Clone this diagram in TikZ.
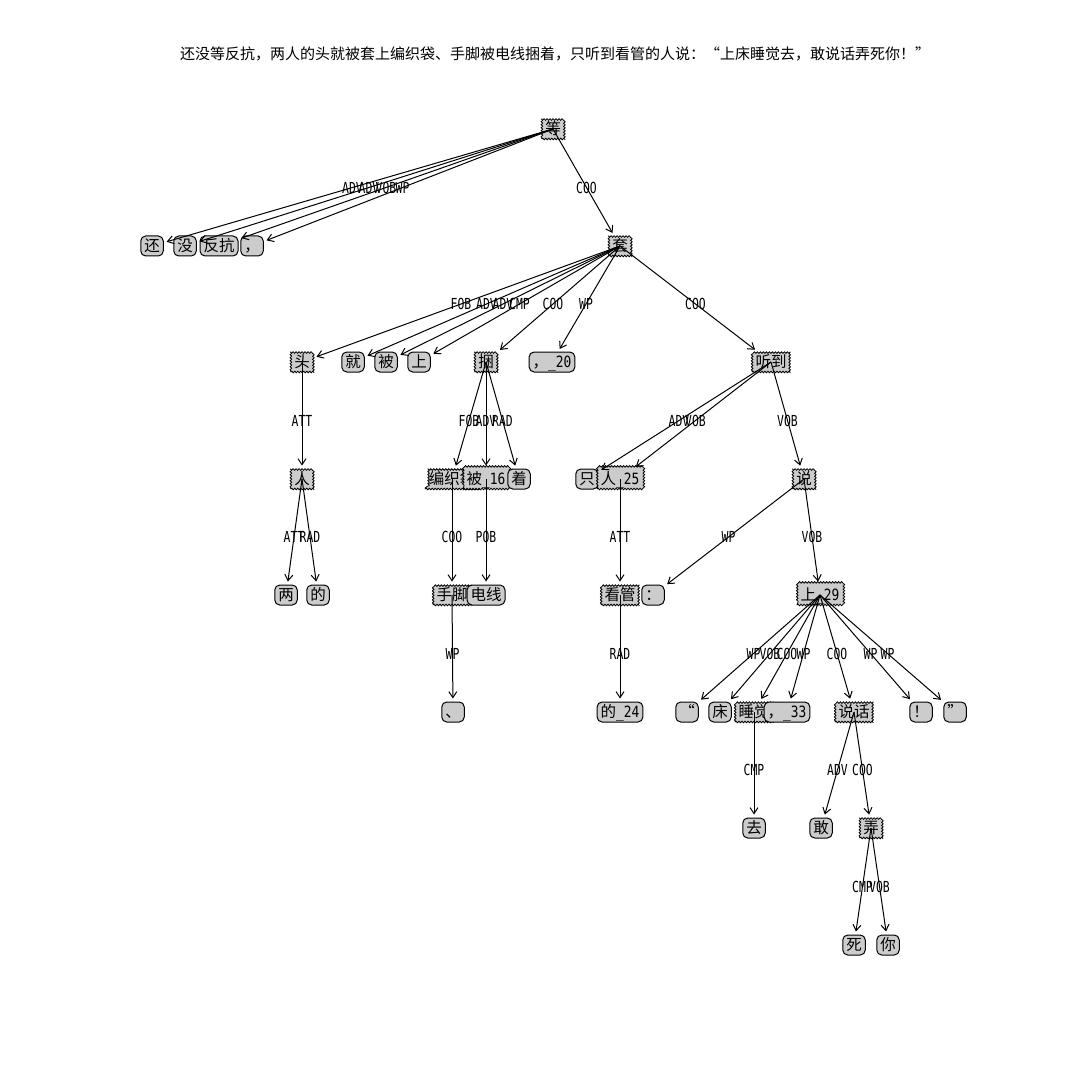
\documentclass[tikz,border=0pt]{standalone}
\usepackage{fontspec}
\setmainfont{Noto Sans CJK SC}
\newfontfamily\labfont[FakeStretch=0.75]{DejaVu Sans Mono}
\newfontfamily\latfont[FakeStretch=0.83]{DejaVu Sans Mono}
\newcommand\latpart[1]{{\latfont #1}}
\usetikzlibrary{arrows.meta,decorations.pathmorphing,calc}
\newcommand\depedge[3]{\draw[deparrow] (#1.center) -- (#2);
  \node[rel] at ($(#1.center)!0.5!(#2.center)$) {#3};}
\begin{document}
\begin{tikzpicture}[x=0.5pt,y=-0.5pt,
  every node/.style={inner sep=0pt},
  basebox/.style={font=\fontsize{7.75pt}{9pt}\selectfont, fill=gray!40, draw=black,
    line width=0.5pt, minimum height=10pt, inner xsep=1.75pt, text height=6.4pt, text depth=1.1pt},
  leafbox/.style={basebox, rounded corners=2.5pt},
  headbox/.style={basebox, line width=0.4pt, decorate, decoration={snake, segment length=1.5pt, amplitude=0.4pt}},
  deparrow/.style={line width=0.5pt, -{Straight Barb[length=3pt,width=4pt]}, shorten >=1.5pt},
  rel/.style={font=\labfont\fontsize{7.6pt}{8pt}\selectfont}
]
\useasboundingbox (0,0) rectangle (1080,1080);
\node[font=\fontsize{7.5pt}{9pt}\selectfont] (title) at (555,54) {还没等反抗，两人的头就被套上编织袋、手脚被电线捆着，只听到看管的人说：“上床睡觉去，敢说话弄死你！”};
% row 0
\node[headbox] (deng) at (553,129) {等};
% row 1
\node[leafbox] (hai) at (152,246) {还};
\node[leafbox] (mei) at (185,246) {没};
\node[leafbox] (fankang) at (219,246) {反抗};
\node[leafbox] (dou1) at (252,246) {，};
\node[headbox] (tao) at (620,246) {套};
% row 2
\node[headbox] (tou) at (302,362) {头};
\node[leafbox] (jiu) at (353,362) {就};
\node[leafbox] (bei) at (386,362) {被};
\node[leafbox] (shang) at (419,362) {上};
\node[headbox] (kun) at (486,362) {捆};
\node[leafbox] (dou20) at (552,362) {，\latpart{\_20}};
\node[headbox] (tingdao) at (771,362) {听到};
% row 3
\node[headbox] (ren) at (302,479) {人};
\node[headbox] (bianzhidai) at (452,479) {编织袋};
\node[headbox] (bei16) at (486,479) {被\latpart{\_16}};
\node[leafbox] (zhe) at (519,479) {着};
\node[leafbox] (zhi) at (587,479) {只};
\node[headbox] (ren25) at (620,479) {人\latpart{\_25}};
\node[headbox] (shuo) at (804,479) {说};
% row 4
\node[leafbox] (liang) at (286,595) {两};
\node[leafbox] (de) at (318,595) {的};
\node[headbox] (shoujiao) at (452,595) {手脚};
\node[leafbox] (dianxian) at (486,595) {电线};
\node[headbox] (kanguan) at (620,595) {看管};
\node[leafbox] (maohao) at (653,595) {：};
\node[headbox] (shang29) at (820,595) {上\latpart{\_29}};
% row 5
\node[leafbox] (dun) at (453,712) {、};
\node[leafbox] (de24) at (620,712) {的\latpart{\_24}};
\node[leafbox] (lq) at (687,712) {“};
\node[leafbox] (chuang) at (720,712) {床};
\node[headbox] (shuijiao) at (754,712) {睡觉};
\node[leafbox] (dou33) at (787,712) {，\latpart{\_33}};
\node[headbox] (shuohua) at (854,712) {说话};
\node[leafbox] (gt) at (921,712) {！};
\node[leafbox] (rq) at (955,712) {”};
% row 6
\node[leafbox] (qu) at (754,828) {去};
\node[leafbox] (gan) at (821,828) {敢};
\node[headbox] (nong) at (871,828) {弄};
% row 7
\node[leafbox] (si) at (854,945) {死};
\node[leafbox] (ni) at (888,945) {你};
% edges
\depedge{deng}{hai}{ADV}
\depedge{deng}{mei}{ADV}
\depedge{deng}{fankang}{VOB}
\depedge{deng}{dou1}{WP}
\depedge{deng}{tao}{COO}
\depedge{tao}{tou}{FOB}
\depedge{tao}{jiu}{ADV}
\depedge{tao}{bei}{ADV}
\depedge{tao}{shang}{CMP}
\depedge{tao}{kun}{COO}
\depedge{tao}{dou20}{WP}
\depedge{tao}{tingdao}{COO}
\depedge{tou}{ren}{ATT}
\depedge{kun}{bianzhidai}{FOB}
\depedge{kun}{bei16}{ADV}
\depedge{kun}{zhe}{RAD}
\depedge{tingdao}{zhi}{ADV}
\depedge{tingdao}{ren25}{VOB}
\depedge{tingdao}{shuo}{VOB}
\depedge{ren}{liang}{ATT}
\depedge{ren}{de}{RAD}
\depedge{bianzhidai}{shoujiao}{COO}
\depedge{bei16}{dianxian}{POB}
\depedge{ren25}{kanguan}{ATT}
\depedge{shuo}{maohao}{WP}
\depedge{shuo}{shang29}{VOB}
\depedge{shoujiao}{dun}{WP}
\depedge{kanguan}{de24}{RAD}
\depedge{shang29}{lq}{WP}
\depedge{shang29}{chuang}{VOB}
\depedge{shang29}{shuijiao}{COO}
\depedge{shang29}{dou33}{WP}
\depedge{shang29}{shuohua}{COO}
\depedge{shang29}{gt}{WP}
\depedge{shang29}{rq}{WP}
\depedge{shuijiao}{qu}{CMP}
\depedge{shuohua}{gan}{ADV}
\depedge{shuohua}{nong}{COO}
\depedge{nong}{si}{CMP}
\depedge{nong}{ni}{VOB}
\end{tikzpicture}
\end{document}
